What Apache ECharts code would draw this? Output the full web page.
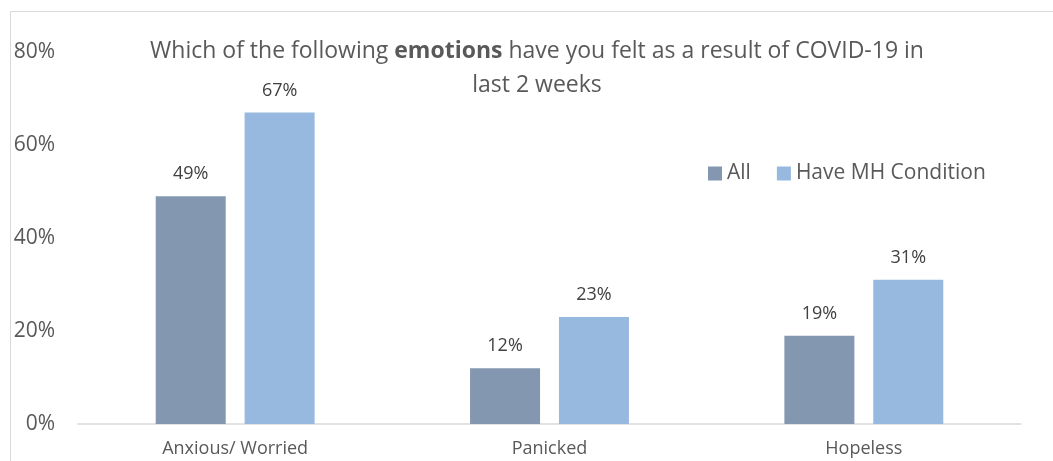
<!DOCTYPE html>
<html>
<head>
<meta charset="utf-8">
<script src="https://cdn.jsdelivr.net/npm/echarts@6/dist/echarts.min.js"></script>
<style>
html,body{margin:0;padding:0;background:#fff;}
#main{width:1053px;height:461px;}
</style>
</head>
<body>
<div id="main"></div>
<script>
const categories = ['Anxious/ Worried', 'Panicked', 'Hopeless'];
const seriesNames = ['All', 'Have MH Condition'];
const allValues = [49, 12, 19];
const mhValues = [67, 23, 31];
const yTicks = [0, 20, 40, 60, 80];

const FONT = 'Open Sans';
const chart = echarts.init(document.getElementById('main'));
chart.setOption({
  backgroundColor: '#fff',
  animation: false,
  textStyle: { fontFamily: FONT },
  graphic: [{
    type: 'rect', silent: true,
    shape: { x: 10.5, y: 11.5, width: 1200, height: 600 },
    style: { fill: 'none', stroke: '#D9D9D9', lineWidth: 1 }
  }],
  title: {
    text: '{n|Which of the following }{b|emotions}{n| have you felt as a result of COVID-19 in}\n{n|last 2 weeks}',
    left: 532, top: 29, textAlign: 'center',
    textStyle: {
      fontWeight: 'normal',
      rich: {
        n: { fontFamily: FONT, fontSize: 23, color: '#595959', fontWeight: 'normal', lineHeight: 34 },
        b: { fontFamily: FONT, fontSize: 23, color: '#595959', fontWeight: 'bold', lineHeight: 34 }
      }
    }
  },
  legend: {
    data: seriesNames,
    left: 703, top: 158,
    itemWidth: 14, itemHeight: 14, itemGap: 26,
    icon: 'rect',
    textStyle: { fontFamily: FONT, fontSize: 21, color: '#595959' }
  },
  grid: { left: 78, right: 32, top: 52, bottom: 37, containLabel: false },
  xAxis: {
    type: 'category', data: categories,
    axisLine: { lineStyle: { color: '#D9D9D9', width: 1.5 } },
    axisTick: { show: false },
    axisLabel: { fontFamily: FONT, fontSize: 18, color: '#595959', margin: 16 }
  },
  yAxis: {
    type: 'value', min: yTicks[0], max: yTicks[yTicks.length - 1], interval: 20,
    axisLine: { show: false }, axisTick: { show: false }, splitLine: { show: false },
    axisLabel: { fontFamily: FONT, fontSize: 21, color: '#595959', margin: 23, formatter: v => v + '%' }
  },
  series: [
    {
      name: seriesNames[0], type: 'bar', data: allValues,
      barWidth: 70, barGap: '27%',
      itemStyle: { color: '#8497B0' },
      label: { show: true, position: 'top', distance: 13, formatter: p => p.value + '%', fontFamily: FONT, fontSize: 18, color: '#404040' }
    },
    {
      name: seriesNames[1], type: 'bar', data: mhValues,
      barWidth: 70,
      itemStyle: { color: '#97B9E0' },
      label: { show: true, position: 'top', distance: 13, formatter: p => p.value + '%', fontFamily: FONT, fontSize: 18, color: '#404040' }
    }
  ]
});
</script>
</body>
</html>
